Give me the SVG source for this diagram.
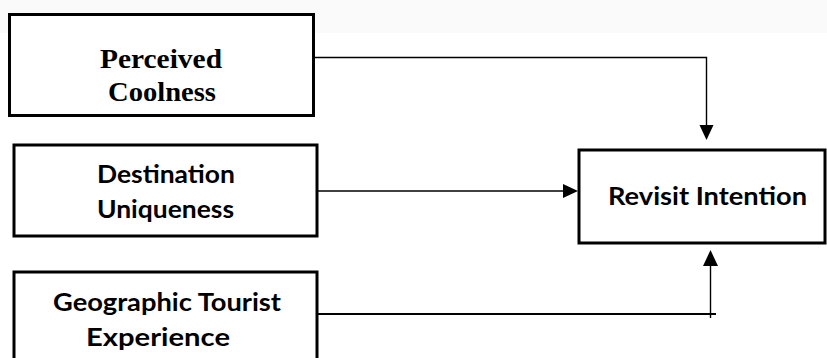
<svg xmlns="http://www.w3.org/2000/svg" width="827" height="358" viewBox="0 0 827 358">
<style>
.box{fill:#fff;stroke:#000;stroke-width:3}
.serif{font-family:"Liberation Serif","Times New Roman",serif;font-weight:bold;font-size:28px;fill:#000;text-anchor:middle}
.sans{font-family:Lato,"Open Sans","Liberation Sans",sans-serif;font-weight:bold;font-size:25px;fill:#000;text-anchor:middle}
.ln{fill:none;stroke:#000;stroke-width:1.4}
.ah{fill:#000}
</style>
<rect x="0" y="0" width="827" height="358" fill="#fff"/>
<rect x="0" y="0" width="827" height="33" fill="#fafafa"/>
<g id="connectors">
<polyline class="ln" points="315,57.5 706.5,57.5 706.5,128"/>
<polygon class="ah" points="699.5,125 713.5,125 706.5,140"/>
<line class="ln" x1="318" y1="191" x2="565" y2="191"/>
<polygon class="ah" points="563,184 563,198 578,191"/>
<line class="ln" x1="318" y1="314" x2="716" y2="314" style="stroke-width:2"/>
<line class="ln" x1="710.5" y1="318" x2="710.5" y2="262"/>
<polygon class="ah" points="703,266 718,266 710.5,250"/>
</g>
<g id="node-perceived-coolness">
<rect class="box" x="9.5" y="14.5" width="304" height="101"/>
<text class="serif" x="161" y="67.5" textLength="122" lengthAdjust="spacingAndGlyphs">Perceived</text>
<text class="serif" x="162" y="101" textLength="108" lengthAdjust="spacingAndGlyphs">Coolness</text>
</g>
<g id="node-destination-uniqueness">
<rect class="box" x="14" y="145" width="303" height="91"/>
<text class="sans" x="166" y="183" textLength="138" lengthAdjust="spacingAndGlyphs">Destination</text>
<text class="sans" x="165.5" y="218" textLength="137" lengthAdjust="spacingAndGlyphs">Uniqueness</text>
</g>
<g id="node-geographic-tourist-experience">
<rect class="box" x="14" y="272" width="303" height="100"/>
<text class="sans" x="167" y="311" textLength="228" lengthAdjust="spacingAndGlyphs">Geographic Tourist</text>
<text class="sans" x="158" y="346" textLength="144" lengthAdjust="spacingAndGlyphs">Experience</text>
</g>
<g id="node-revisit-intention">
<rect class="box" x="579" y="150" width="246" height="93"/>
<text class="sans" x="707.5" y="205" textLength="199" lengthAdjust="spacingAndGlyphs">Revisit Intention</text>
</g>
</svg>
